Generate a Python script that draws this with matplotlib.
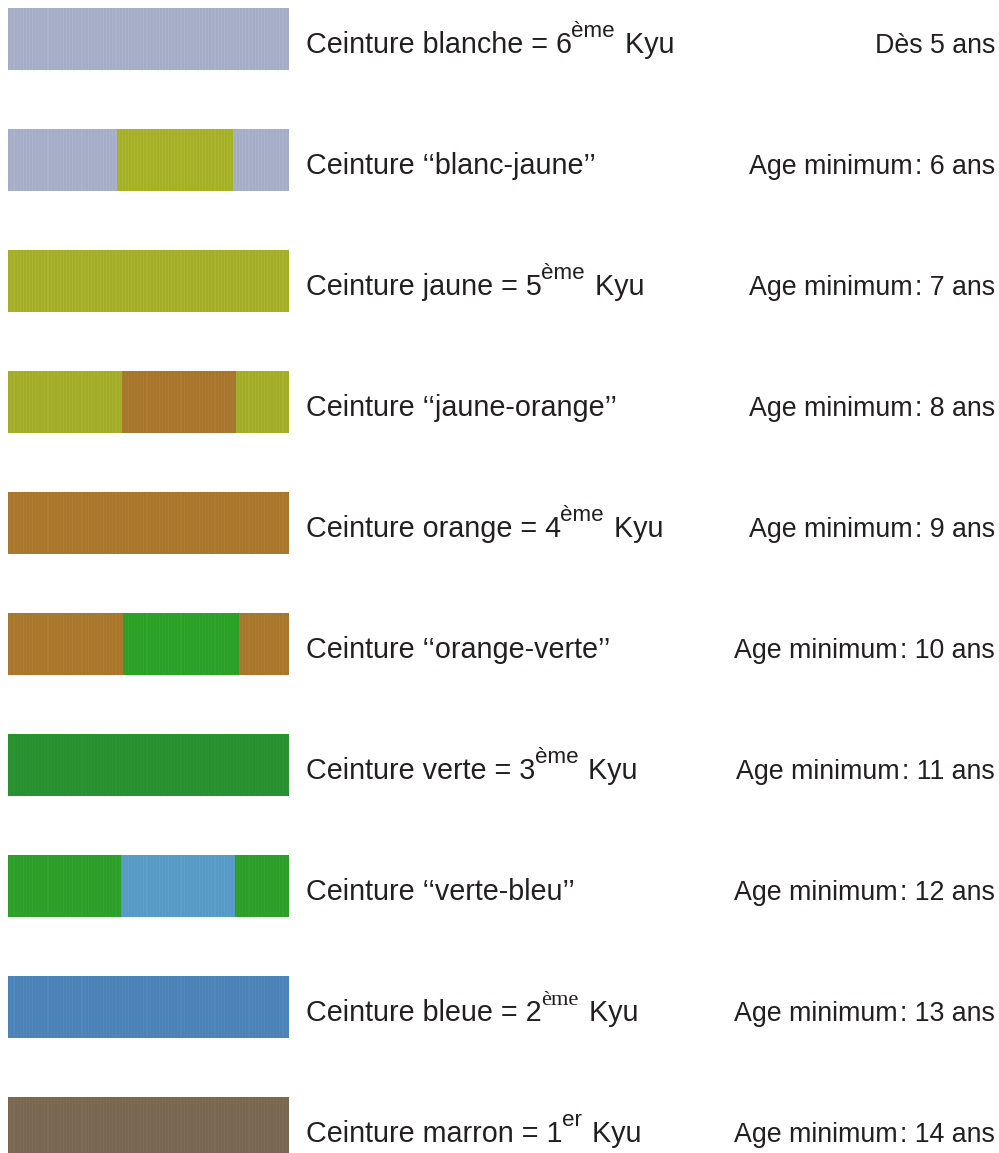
import numpy as np
import matplotlib
matplotlib.use("Agg")
import matplotlib.pyplot as plt
import matplotlib.transforms as mtransforms

# belt rows, top to bottom
q_open = "\u2018\u2018"
q_close = "\u2019\u2019"
labels = ["Ceinture blanche = 6", "Ceinture " + q_open + "blanc-jaune" + q_close,
          "Ceinture jaune = 5", "Ceinture " + q_open + "jaune-orange" + q_close,
          "Ceinture orange = 4", "Ceinture " + q_open + "orange-verte" + q_close,
          "Ceinture verte = 3", "Ceinture " + q_open + "verte-bleu" + q_close,
          "Ceinture bleue = 2", "Ceinture marron = 1"]
sups = ["\u00e8me", "", "\u00e8me", "", "\u00e8me", "", "\u00e8me", "", "\u00e8me", "er"]
sup_serif = [False, False, False, False, False, False, False, False, True, False]
tails = [" Kyu", "", " Kyu", "", " Kyu", "", " Kyu", "", " Kyu", " Kyu"]
ages = ["D\u00e8s 5 ans", "Age minimum\u200a: 6 ans", "Age minimum\u200a: 7 ans",
        "Age minimum\u200a: 8 ans", "Age minimum\u200a: 9 ans", "Age minimum\u200a: 10 ans",
        "Age minimum\u200a: 11 ans", "Age minimum\u200a: 12 ans", "Age minimum\u200a: 13 ans",
        "Age minimum\u200a: 14 ans"]

# main colour and centre stripe colour (None = plain belt)
main_col = ["#aab3cc", "#aab3cc", "#a9b32b", "#a8b22c", "#ad7b2f",
            "#ad7b2f", "#2a9530", "#2ea42b", "#4e88bd", "#7d6b55"]
stripe_col = [None, "#abb62a", None, "#ad7a30", None,
              "#2ea52b", None, "#5b9fcc", None, None]
stripe_start = [0, 0.388, 0, 0.404, 0, 0.410, 0, 0.401, 0, 0]
stripe_end = [0, 0.801, 0, 0.811, 0, 0.823, 0, 0.808, 0, 0]

fs = 20.7      # left labels
fs_age = 19.3  # right column
txt_col = "#231f20"

fig = plt.figure(figsize=(9.99, 11.53), dpi=100)
ax = fig.add_axes([0, 0, 1, 1])
ax.set_xlim(-8 / 281, 991 / 281)
ax.set_ylim(1114 / 121, -39 / 121)
ax.axis("off")

rows = np.arange(len(labels))
h = 62 / 121
ax.barh(rows, 1.0, left=0, height=h, color=main_col, linewidth=0)
for i in rows:
    if stripe_col[i] is not None:
        ax.barh(i, stripe_end[i] - stripe_start[i], left=stripe_start[i], height=h,
                color=stripe_col[i], linewidth=0)

# fine vertical ribbing on the belts
for i in rows:
    xs = np.arange(0.005, 1.0, 0.011)
    ax.vlines(xs, i - h / 2, i + h / 2, colors="black", alpha=0.035, linewidth=1.2)

trans = mtransforms.blended_transform_factory(ax.transAxes, ax.transData)
fam = ["Liberation Sans", "DejaVu Sans"]
for i in rows:
    yb = i + 14 / 121
    t = ax.text(306 / 999, yb, labels[i], transform=trans, fontsize=fs, family=fam,
                color=txt_col, va="baseline", ha="left")
    if sups[i]:
        sfam = ["Liberation Serif", "DejaVu Serif"] if sup_serif[i] else fam
        s = ax.annotate(sups[i], xy=(1, 0), xycoords=t, xytext=(-0.5, 12),
                        textcoords="offset points", fontsize=fs * 0.78, family=sfam,
                        color=txt_col, va="bottom", ha="left")
        ax.annotate(tails[i], xy=(1, 0), xycoords=(s, t), xytext=(1.5, 0),
                    textcoords="offset points", fontsize=fs, family=fam,
                    color=txt_col, va="bottom", ha="left")
    ax.text(995 / 999, yb, ages[i], transform=trans, fontsize=fs_age, family=fam,
            color=txt_col, va="baseline", ha="right")

fig.savefig("out.png", dpi=100, facecolor="white")
